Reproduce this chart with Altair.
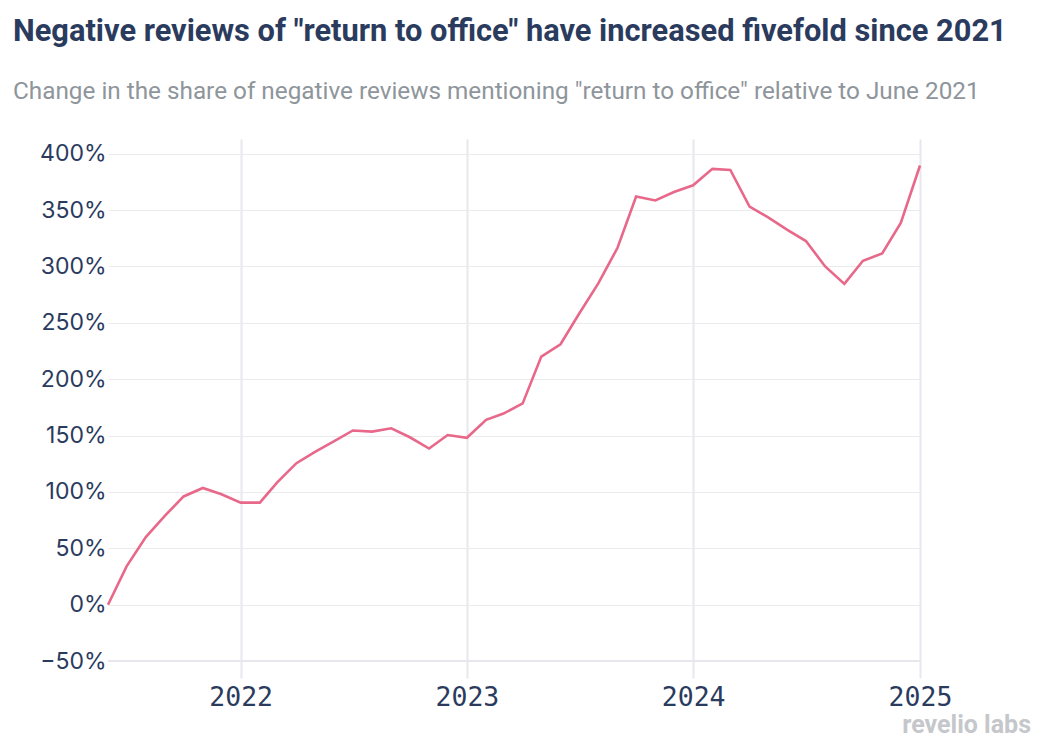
import altair as alt
import pandas as pd

months = pd.date_range("2021-06-01", "2025-01-01", freq="MS").strftime("%Y-%m-%d").tolist()
change_pct = [
    0, 34, 60, 79, 96, 103.5, 98, 90.5, 90.5, 108.5, 125.5, 135.5, 145,
    154.5, 153.5, 156.5, 148.5, 138.5, 150.5, 148, 164, 169.5, 178.5,
    220, 231, 258, 285, 316.5, 362, 358.5, 366, 372, 386.5, 385.5,
    353, 343.5, 332.5, 322.5, 300, 284.5, 305, 311.5, 338.5, 389.5,
]
y_ticks = [-50, 0, 50, 100, 150, 200, 250, 300, 350, 400]
x_tick_years = [2022, 2023, 2024, 2025]

df = pd.DataFrame({"month": months, "change": change_pct})

NAVY = "#2b3b5e"
LINE = "#e8688a"

x_scale = alt.Scale(
    type="utc",
    domain=[alt.DateTime(year=2021, month=6, date=1, utc=True),
            alt.DateTime(year=2025, month=1, date=1, utc=True)],
)
y_scale = alt.Scale(domain=[-65, 413], nice=False, zero=False)

line = alt.Chart(df).mark_line(color=LINE, strokeWidth=2.6, clip=False).encode(
    x=alt.X("month:T", scale=x_scale, title=None,
            axis=alt.Axis(
                values=[alt.DateTime(year=y, month=1, date=1, utc=True) for y in x_tick_years],
                format="%Y", labelFont="DejaVu Sans Mono", labelFontSize=26.5,
                labelColor=NAVY, labelPadding=6, ticks=False, domain=False,
                grid=True, gridColor="#e8e8ee", gridWidth=2, labelFlush=False,
            )),
    y=alt.Y("change:Q", scale=y_scale, title=None,
            axis=alt.Axis(
                values=y_ticks, labelExpr="format(datum.value, 'd') + '%'",
                labelFont="Inter", labelFontSize=23, labelColor=NAVY,
                labelPadding=2, ticks=False, domain=False,
                grid=True, gridColor="#ebebeb", gridWidth=1,
            )),
)

baseline = alt.Chart(pd.DataFrame({"v": [-50]})).mark_rule(
    color="#e6e6ec", strokeWidth=2
).encode(y=alt.Y("v:Q", scale=y_scale))

logo = alt.Chart(pd.DataFrame({"t": ["revelio labs"]})).mark_text(
    align="right", baseline="alphabetic", font="Roboto", fontWeight="bold",
    fontSize=25, color="#c5c7cb",
).encode(text="t:N", x=alt.value(923), y=alt.value(594))

chart = alt.layer(baseline, line, logo).properties(
    width=812,
    height=539,
    padding={"left": 100, "top": 131, "right": 123, "bottom": 70},
    autosize=alt.AutoSizeParams(type="none"),
    title=alt.TitleParams(
        text='Negative reviews of "return to office" have increased fivefold since 2021',
        subtitle='Change in the share of negative reviews mentioning "return to office" relative to June 2021',
        anchor="start", frame="group", dx=-95, offset=34,
        font="Roboto", fontSize=30.8, fontWeight="bold", color=NAVY,
        subtitleFont="Roboto", subtitleFontSize=24.3, subtitleColor="#8e959b",
        subtitlePadding=32,
    ),
).configure_view(stroke=None, strokeWidth=0)

chart.save("out.html", embed_options={"renderer": "svg", "actions": False})
